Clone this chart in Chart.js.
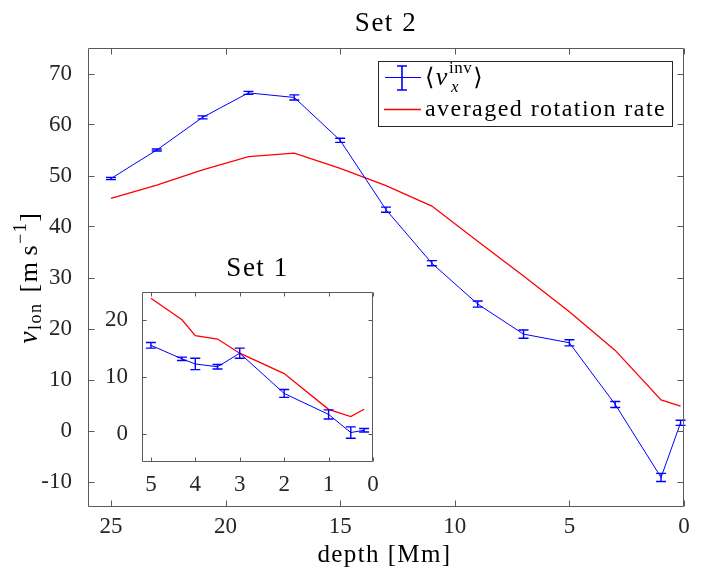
<!DOCTYPE html>
<html><head><meta charset="utf-8">
<script src="https://cdn.jsdelivr.net/npm/chart.js@4"></script>
<style>
html,body{margin:0;padding:0;background:#fff;}
#wrap{position:relative;width:707px;height:572px;overflow:hidden;}
#main{position:absolute;left:0;top:0;}
#inset{position:absolute;left:96px;top:240px;}
</style></head><body>
<div id="wrap"><canvas id="main" width="707" height="572"></canvas><canvas id="inset" width="300" height="270"></canvas></div>
<script>
// ---- data ----
const set2Depth = [25, 23, 21, 19, 17, 15, 13, 11, 9, 7, 5, 3, 1, 0.15];
const set2Vinv  = [49.4, 55.0, 61.4, 66.2, 65.3, 56.9, 43.3, 32.8, 24.8, 18.9, 17.2, 5.1, -9.2, 1.5];
const set2Err   = [0.2, 0.2, 0.3, 0.3, 0.5, 0.4, 0.5, 0.5, 0.6, 0.8, 0.6, 0.6, 0.8, 0.5];
const set2Rot   = [45.5, 48.1, 51.1, 53.7, 54.4, 51.4, 48.0, 44.0, 37.1, 30.3, 23.3, 15.7, 6.0, 4.8];

const set1Depth = [5, 4.3, 4, 3.5, 3, 2, 1, 0.5, 0.2];
const set1Vinv  = [15.6, 13.2, 12.3, 11.8, 14.2, 7.1, 3.4, 0.2, 0.6];
const set1Err   = [0.5, 0.3, 1.0, 0.4, 0.9, 0.7, 0.8, 1.0, 0.3];
const set1Rot   = [23.9, 20.1, 17.3, 16.7, 14.2, 10.6, 4.3, 3.0, 4.3];

const mainXTicks  = [25, 20, 15, 10, 5, 0];
const mainYTicks  = [-10, 0, 10, 20, 30, 40, 50, 60, 70];
const insetXTicks = [5, 4, 3, 2, 1, 0];
const insetYTicks = [0, 10, 20];

const mainTitle = 'Set 2';
const insetTitle = 'Set 1';
const xLabel = 'depth [Mm]';
const legendRot = 'averaged rotation rate';

// ---- styling ----
const SERIF = '"Liberation Serif", "Times New Roman", serif';
const AX = '#262626';
const BOX = '#5a5a5a';
const BLUE = '#0000ff';
const RED = '#ff0000';

function pts(xs, ys){ return xs.map((x,i)=>({x:x, y:ys[i]})); }

function drawRich(ctx, parts, x, y, align, ls){
  ctx.letterSpacing = (ls || 0) + 'px';
  let w = 0;
  parts.forEach(p=>{ ctx.font = p.font; p.w = ctx.measureText(p.t).width; w += p.w + (p.gap||0); });
  let cx = align === 'center' ? x - w/2 : x;
  parts.forEach(p=>{
    ctx.font = p.font;
    ctx.fillText(p.t, cx, y + (p.dy||0));
    cx += p.w + (p.gap||0);
  });
  ctx.letterSpacing = '0px';
  return w;
}

function axesPlugin(cfg){
  return {
    id: 'axesbox_' + cfg.name,
    beforeDraw(chart){
      const a = chart.chartArea, c = chart.ctx;
      c.save(); c.fillStyle = '#fff';
      c.fillRect(a.left, a.top, a.right - a.left, a.bottom - a.top);
      c.restore();
    },
    afterDatasetsDraw(chart){
      const c = chart.ctx, a = chart.chartArea, xs = chart.scales.x, ys = chart.scales.y;
      const ds = chart.data.datasets[0];
      c.save();
      c.strokeStyle = BLUE; c.lineWidth = 1.4;
      ds.data.forEach((p, i) => {
        const e = cfg.err[i];
        const px = xs.getPixelForValue(p.x);
        const y1 = ys.getPixelForValue(p.y + e), y2 = ys.getPixelForValue(p.y - e);
        const cap = cfg.cap;
        c.beginPath();
        c.moveTo(px, y1); c.lineTo(px, y2);
        c.moveTo(px - cap, y1); c.lineTo(px + cap, y1);
        c.moveTo(px - cap, y2); c.lineTo(px + cap, y2);
        c.stroke();
      });
      c.restore();
      c.save();
      c.strokeStyle = BOX; c.lineWidth = 1;
      const L = Math.round(a.left) + 0.5, R = Math.round(a.right) - 0.5;
      const T = Math.round(a.top) + 0.5, B = Math.round(a.bottom) - 0.5;
      c.beginPath();
      c.rect(L, T, R - L, B - T);
      const tl = cfg.tickLen;
      cfg.xt.forEach(v => {
        const px = Math.round(xs.getPixelForValue(v)) + 0.5;
        c.moveTo(px, B); c.lineTo(px, B - tl);
        c.moveTo(px, T); c.lineTo(px, T + tl);
      });
      cfg.yt.forEach(v => {
        const py = Math.round(ys.getPixelForValue(v)) + 0.5;
        c.moveTo(L, py); c.lineTo(L + tl, py);
        c.moveTo(R, py); c.lineTo(R - tl, py);
      });
      c.stroke();
      c.restore();
      if (cfg.after) cfg.after(chart);
    }
  };
}

function makeChart(id, o){
  return new Chart(document.getElementById(id), {
    type: 'line',
    data: { datasets: [
      { label: 'vinv', data: pts(o.depth, o.vinv), borderColor: BLUE, borderWidth: 1, pointRadius: 0, tension: 0, fill: false },
      { label: 'rot', data: pts(o.depth, o.rot), borderColor: RED, borderWidth: 1.3, pointRadius: 0, tension: 0, fill: false }
    ]},
    options: {
      responsive: false, animation: false, devicePixelRatio: 1,
      layout: { padding: o.padding },
      plugins: { legend: { display: false }, tooltip: { enabled: false }, title: { display: false } },
      scales: {
        x: {
          type: 'linear', reverse: true, min: o.xmin, max: o.xmax,
          afterBuildTicks: s => { s.ticks = o.xt.map(v => ({ value: v })); },
          afterFit: s => { s.height = o.xh; },
          grid: { display: false }, border: { display: false },
          ticks: { font: { family: SERIF, size: 23 }, color: AX, padding: o.xpad, maxRotation: 0, autoSkip: false,
                   callback: v => String(v) }
        },
        y: {
          type: 'linear', min: o.ymin, max: o.ymax,
          afterBuildTicks: s => { s.ticks = o.yt.map(v => ({ value: v })); },
          afterFit: s => { s.width = o.yw; },
          grid: { display: false }, border: { display: false },
          ticks: { font: { family: SERIF, size: 23 }, color: AX, padding: o.ypad, autoSkip: false,
                   callback: v => String(v) }
        }
      }
    },
    plugins: [axesPlugin({ name: id, err: o.err, cap: 5, tickLen: o.tickLen, xt: o.xt, yt: o.yt, after: o.after })]
  });
}

function drawMainExtras(chart){
  const c = chart.ctx, a = chart.chartArea;
  const cx = (a.left + a.right) / 2;
  c.save();
  c.fillStyle = '#000';
  c.textBaseline = 'alphabetic';
  c.textAlign = 'left';
  drawRich(c, [{ t: mainTitle, font: '27px ' + SERIF }], cx, 31, 'center', 1.5);
  drawRich(c, [{ t: xLabel, font: '25px ' + SERIF }], 384.5, 562, 'center', 1.4);
  // y label (rotated)
  c.save();
  c.translate(37, (a.top + a.bottom) / 2);
  c.rotate(-Math.PI / 2);
  drawRich(c, [
    { t: 'v', font: 'italic 27px ' + SERIF, gap: 0 },
    { t: 'lon', font: '18px ' + SERIF, dy: 4, gap: 10 },
    { t: '[m', font: '26px ' + SERIF, gap: 5 },
    { t: 's', font: '26px ' + SERIF, gap: 0 },
    { t: '\u22121', font: '18px ' + SERIF, dy: -11, gap: 0 },
    { t: ']', font: '26px ' + SERIF }
  ], 0, 0, 'center', 1.5);
  c.restore();
  // legend
  const bx = 378.5, by = 61.5, bw = 294, bh = 65;
  c.fillStyle = '#fff';
  c.fillRect(bx, by, bw, bh);
  c.strokeStyle = AX; c.lineWidth = 1;
  c.strokeRect(bx, by, bw, bh);
  c.strokeStyle = BLUE; c.lineWidth = 1;
  c.beginPath(); c.moveTo(385, 77.5); c.lineTo(421, 77.5); c.stroke();
  c.lineWidth = 1.6;
  c.beginPath();
  c.moveTo(402, 66); c.lineTo(402, 90);
  c.moveTo(397, 66); c.lineTo(407, 66);
  c.moveTo(397, 90); c.lineTo(407, 90);
  c.stroke();
  c.strokeStyle = RED; c.lineWidth = 1.3;
  c.beginPath(); c.moveTo(384, 109.5); c.lineTo(421, 109.5); c.stroke();
  c.fillStyle = '#000';
  drawRich(c, [
    { t: '\u27E8', font: '24px "DejaVu Serif", ' + SERIF, gap: 1 },
    { t: 'v', font: 'italic 26px ' + SERIF, gap: 1 },
    { t: 'inv', font: '17px ' + SERIF, dy: -12, gap: 1 },
    { t: '\u27E9', font: '24px "DejaVu Serif", ' + SERIF }
  ], 425, 85, 'left', 0.5);
  c.font = 'italic 17px ' + SERIF;
  c.fillText('x', 451, 92);
  drawRich(c, [{ t: legendRot, font: '24px ' + SERIF }], 425, 116, 'left', 1.45);
  c.restore();
}

function drawInsetExtras(chart){
  const c = chart.ctx, a = chart.chartArea;
  c.save();
  c.fillStyle = '#000';
  c.textAlign = 'left';
  c.textBaseline = 'alphabetic';
  drawRich(c, [{ t: insetTitle, font: '27px ' + SERIF }], (a.left + a.right) / 2, 36, 'center', 1.5);
  c.restore();
}

makeChart('main', {
  depth: set2Depth, vinv: set2Vinv, rot: set2Rot, err: set2Err,
  xmin: 0, xmax: 26, ymin: -15, ymax: 75, xt: mainXTicks, yt: mainYTicks,
  padding: { top: 48, right: 23, left: 0, bottom: 0 }, xh: 65, yw: 88, xpad: -2, ypad: 8, tickLen: 6,
  after: drawMainExtras
});

makeChart('inset', {
  depth: set1Depth, vinv: set1Vinv, rot: set1Rot, err: set1Err,
  xmin: 0, xmax: 5.2, ymin: -5, ymax: 25, xt: insetXTicks, yt: insetYTicks,
  padding: { top: 52, right: 23, left: 0, bottom: 0 }, xh: 48, yw: 46, xpad: 1, ypad: 6, tickLen: 4,
  after: drawInsetExtras
});
</script>
</body></html>
